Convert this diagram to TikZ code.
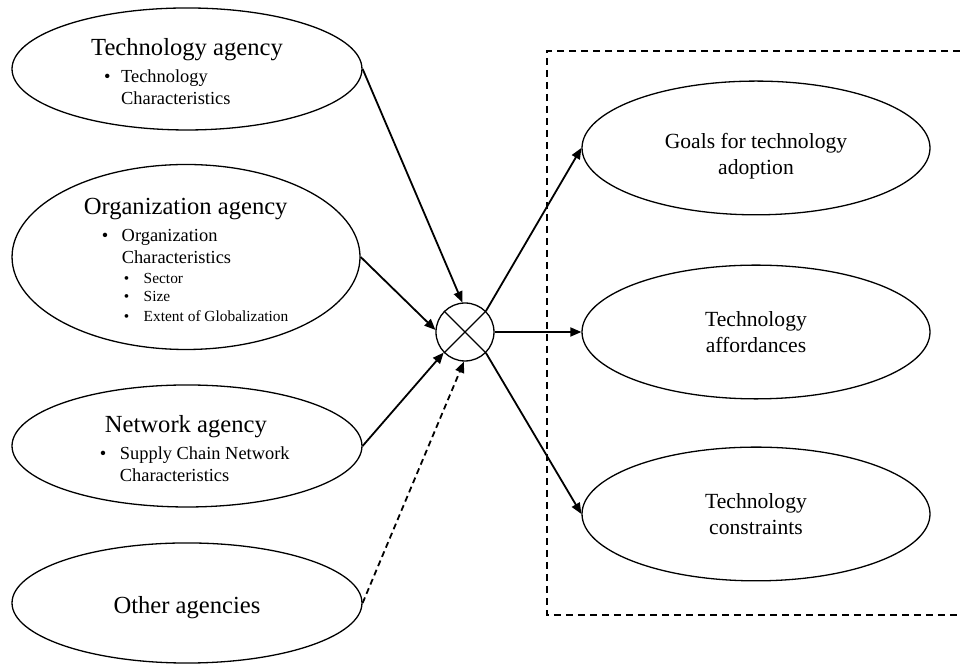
\documentclass[tikz,border=0pt]{standalone}
\usepackage{fontspec}
\setmainfont{Liberation Serif}
\usepackage{tikz}
\usetikzlibrary{arrows.meta, shapes.geometric}
\newcommand{\HeadFont}{\fontsize{12.3}{14}\selectfont}
\newcommand{\ItemFont}{\fontsize{9.2}{11}\selectfont}
\newcommand{\SubFont}{\fontsize{7.7}{9.5}\selectfont}
\newcommand{\Bul}[1]{\makebox[#1][l]{\textbullet}}
\newcommand{\Lower}[2]{\raisebox{-#1}[\height][\depth]{#2}}

\begin{document}
\begin{tikzpicture}[
    agency/.style={draw, ellipse, line width=0.65pt, minimum width=6.15cm,
      minimum height=2.144cm, inner sep=0pt, font=\ItemFont},
    outcome/.style={draw, ellipse, line width=0.65pt, minimum width=6.115cm,
      minimum height=2.35cm, inner sep=0pt,
      font=\fontsize{10.8}{12.9}\selectfont},
    flow/.style={line width=0.9pt, -{Triangle[length=5.5pt,width=4.5pt]}},
  ]
        \useasboundingbox (0,0) rectangle (16.87,11.668);
        % dashed frame, open to the right
        \draw[line width=0.6pt, dash pattern=on 3.5pt off 2.5pt]
        (16.87,10.772) -- (9.612,10.772) -- (9.612,0.861) -- (16.87,0.861);
        % agencies
        \node[agency] (tech) at (3.286,10.456) {\Lower{3pt}{\begin{tabular}{@{}l@{}}
            \HeadFont Technology agency\\[2.5pt]
            \hspace*{6.5pt}\Bul{8.5pt}Technology\\
            \hspace*{15pt}Characteristics
          \end{tabular}}};
        \node[agency, minimum width=6.115cm, minimum height=3.251cm] (org) at (3.269,7.152)
          {\Lower{3pt}{\begin{tabular}{@{}l@{}}
            \HeadFont Organization agency\\[2.5pt]
            \hspace*{9pt}\Bul{10pt}Organization\\
            \hspace*{19pt}Characteristics\\[-1pt]
            \SubFont\hspace*{20pt}\Bul{10pt}Sector\\[-2pt]
            \SubFont\hspace*{20pt}\Bul{10pt}Size\\[-1pt]
            \SubFont\hspace*{20pt}\Bul{10pt}Extent of Globalization
          \end{tabular}}};
        \node[agency] (net) at (3.286,3.831) {\Lower{3pt}{\begin{tabular}{@{\hspace{7.8pt}}l@{}}
            \HeadFont\hspace*{2.5pt}Network agency\\[2.5pt]
            \Bul{10pt}Supply Chain Network\\
            \hspace*{10pt}Characteristics
          \end{tabular}}};
        \node[agency, minimum height=2.11cm, font=\HeadFont] (other) at (3.286,1.072)
          {\Lower{2.5pt}{Other agencies}};
        % combining node
        \node[draw, circle, line width=0.65pt, minimum size=1.019cm, inner sep=0pt] (comb) at (8.171,5.834) {};
        \draw[line width=0.65pt] (comb.135) -- (comb.-45);
        \draw[line width=0.65pt] (comb.45) -- (comb.-135);
        % outcomes
        \node[outcome] (goals) at (13.285,9.068)
          {\Lower{4pt}{\begin{tabular}{@{}c@{}}Goals for technology\\adoption\end{tabular}}};
        \node[outcome] (afford) at (13.285,5.834)
          {\Lower{1pt}{\begin{tabular}{@{}c@{}}Technology\\affordances\end{tabular}}};
        \node[outcome] (constr) at (13.285,2.636)
          {\Lower{1pt}{\begin{tabular}{@{}c@{}}Technology\\constraints\end{tabular}}};
        % arrows in
        \draw[flow] (tech.east) -- (comb.95);
        \draw[flow] (org.east) -- (comb.176);
        \draw[flow] (net.east) -- (comb.224);
        \draw[flow, dash pattern=on 3pt off 2pt] (other.east) -- (comb.268);
        % arrows out
        \draw[flow] (comb.45) -- (goals.west);
        \draw[flow] (comb.east) -- (afford.west);
        \draw[flow] (comb.-45) -- (constr.west);
    \end{tikzpicture}
\end{document}
